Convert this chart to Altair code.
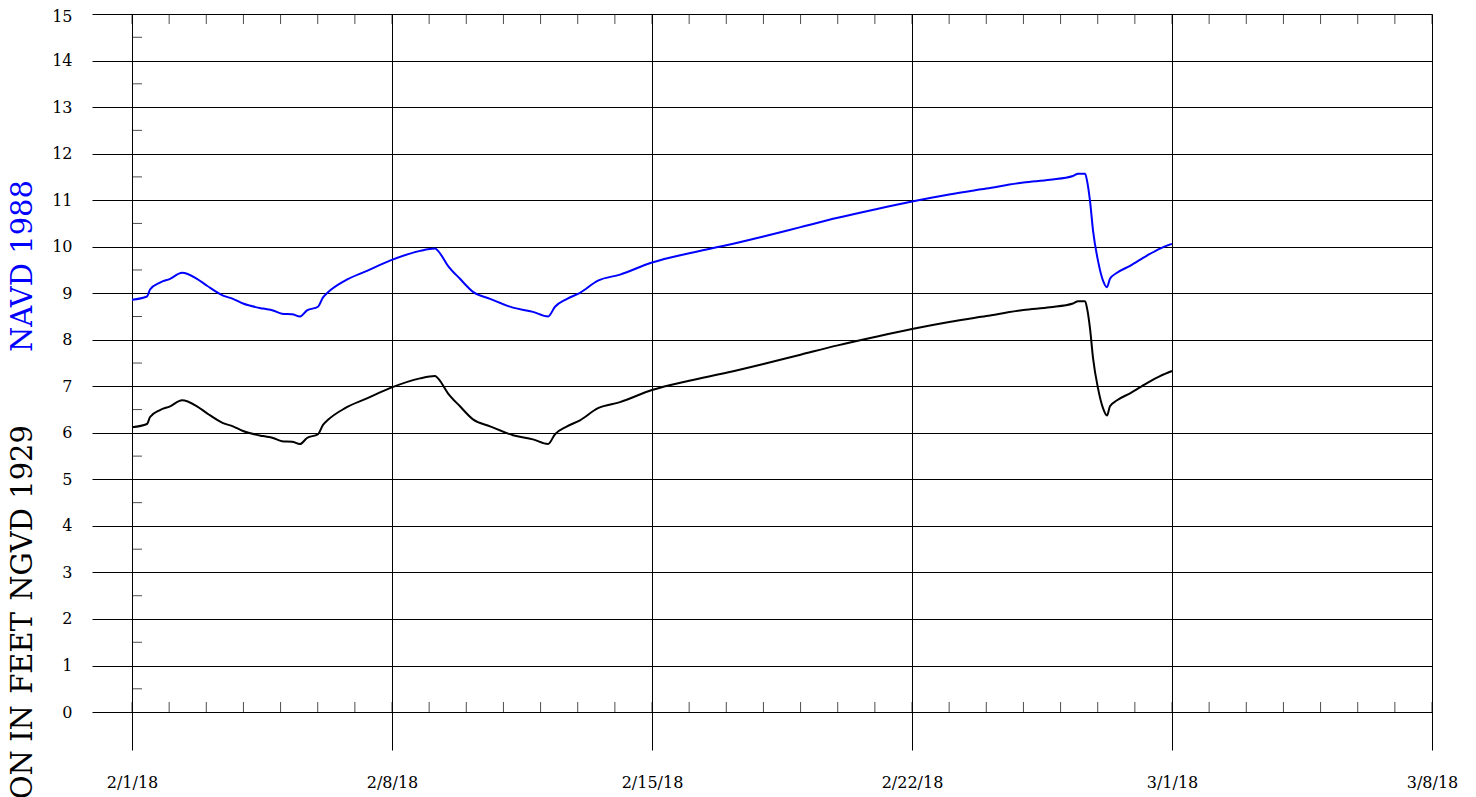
import altair as alt
import pandas as pd

# ---- data ----
times = [
    "2018-02-01T00:00:00Z", "2018-02-01T09:40:00Z", "2018-02-01T11:40:00Z", "2018-02-01T18:05:00Z",
    "2018-02-02T00:35:00Z", "2018-02-02T08:20:00Z", "2018-02-02T18:00:00Z", "2018-02-03T00:30:00Z",
    "2018-02-03T10:50:00Z", "2018-02-03T17:15:00Z", "2018-02-03T23:45:00Z", "2018-02-04T12:40:00Z",
    "2018-02-04T19:05:00Z", "2018-02-05T00:55:00Z", "2018-02-05T07:25:00Z", "2018-02-05T12:35:00Z",
    "2018-02-05T17:05:00Z", "2018-02-06T00:10:00Z", "2018-02-06T03:25:00Z", "2018-02-06T06:40:00Z",
    "2018-02-06T17:40:00Z", "2018-02-07T07:50:00Z", "2018-02-07T22:40:00Z", "2018-02-08T18:05:00Z",
    "2018-02-09T03:50:00Z", "2018-02-09T05:45:00Z", "2018-02-09T12:10:00Z", "2018-02-09T19:55:00Z",
    "2018-02-10T04:20:00Z", "2018-02-10T15:20:00Z", "2018-02-11T06:10:00Z", "2018-02-11T19:05:00Z",
    "2018-02-12T04:50:00Z", "2018-02-12T09:20:00Z", "2018-02-12T17:05:00Z", "2018-02-13T01:30:00Z",
    "2018-02-13T13:05:00Z", "2018-02-14T03:20:00Z", "2018-02-15T00:00:00Z", "2018-02-16T00:00:00Z",
    "2018-02-17T00:00:00Z", "2018-02-18T00:00:00Z", "2018-02-19T00:00:00Z", "2018-02-20T00:00:00Z",
    "2018-02-21T00:00:00Z", "2018-02-22T00:00:00Z", "2018-02-23T00:00:00Z", "2018-02-24T00:00:00Z",
    "2018-02-25T00:00:00Z", "2018-02-25T17:10:00Z", "2018-02-26T08:00:00Z", "2018-02-26T11:20:00Z",
    "2018-02-26T15:50:00Z", "2018-02-26T17:05:00Z", "2018-02-26T19:00:00Z", "2018-02-26T21:00:00Z",
    "2018-02-27T00:10:00Z", "2018-02-27T03:25:00Z", "2018-02-27T06:00:00Z", "2018-02-27T07:55:00Z",
    "2018-02-27T12:30:00Z", "2018-02-27T20:55:00Z", "2018-02-28T07:50:00Z", "2018-02-28T16:15:00Z",
    "2018-03-01T00:00:00Z",
]

navd_1988 = [
    8.86, 8.93, 9.08, 9.23, 9.31, 9.44, 9.31, 9.16, 8.95, 8.88, 8.78, 8.67, 8.63, 8.56, 8.55, 8.50,
    8.63, 8.71, 8.91, 9.02, 9.27, 9.48, 9.70, 9.91, 9.96, 9.91, 9.59, 9.31, 9.03, 8.88, 8.69, 8.60,
    8.50, 8.71, 8.88, 9.01, 9.27, 9.40, 9.66, 9.86, 10.03, 10.22, 10.42, 10.62, 10.80, 10.97, 11.12,
    11.25, 11.38, 11.44, 11.52, 11.57, 11.57, 11.42, 10.99, 10.34, 9.70, 9.27, 9.13, 9.31, 9.44, 9.59,
    9.81, 9.96, 10.06,
]

ngvd_1929 = [
    6.12, 6.19, 6.34, 6.49, 6.57, 6.70, 6.57, 6.42, 6.21, 6.14, 6.04, 5.93, 5.89, 5.82, 5.81, 5.76,
    5.89, 5.97, 6.17, 6.28, 6.53, 6.74, 6.96, 7.17, 7.22, 7.17, 6.85, 6.57, 6.29, 6.14, 5.95, 5.86,
    5.76, 5.97, 6.14, 6.27, 6.53, 6.66, 6.92, 7.12, 7.29, 7.48, 7.68, 7.88, 8.06, 8.23, 8.38, 8.51,
    8.64, 8.70, 8.78, 8.83, 8.83, 8.68, 8.25, 7.60, 6.96, 6.53, 6.37, 6.57, 6.70, 6.85, 7.07, 7.22,
    7.33,
]

y_tick_values = list(range(0, 16))
y_minor_values = [v + 0.5 for v in range(0, 15)]
week_labels = [(2, 1), (2, 8), (2, 15), (2, 22), (3, 1), (3, 8)]

# y-axis title, read bottom-to-top: "ELEVATION IN FEET NGVD 1929" (black) + "NAVD 1988" (blue)
title_words = ["ELEVATION", "IN", "FEET", "NGVD 1929", "NAVD 1988"]
title_colors = ["#000000", "#000000", "#000000", "#000000", "#0000ff"]
title_word_end_px = [736, 691, 598, 411, 166]

FONT = "DejaVu Serif"

# ---- tables ----
df = pd.DataFrame({"time": times, "NAVD 1988": navd_1988, "NGVD 1929": ngvd_1929})
long_df = df.melt("time", var_name="datum", value_name="elev")

days = pd.date_range("2018-02-01", "2018-03-08", freq="D")
days_df = pd.DataFrame({"day": [d.strftime("%Y-%m-%dT00:00:00Z") for d in days]})
minor_df = pd.DataFrame({"y": y_minor_values, "day": ["2018-02-01T00:00:00Z"] * len(y_minor_values)})
title_df = pd.DataFrame({"word": title_words, "color": title_colors, "ypx": title_word_end_px})

x_scale = alt.Scale(
    type="utc",
    domain=[
        alt.DateTime(year=2018, month=1, date=30, hours=22, minutes=9, utc=True),
        alt.DateTime(year=2018, month=3, date=8, utc=True),
    ],
)
y_scale = alt.Scale(domain=[-0.815, 15], nice=False, zero=False)

x_axis = alt.Axis(
    values=[alt.DateTime(year=2018, month=m, date=d, utc=True) for m, d in week_labels],
    format="%-m/%-d/%y",
    grid=True, gridColor="black", gridOpacity=1, gridWidth=1,
    domain=False, ticks=False, tickSize=0,
    labelFont=FONT, labelFontSize=16, labelColor="black", labelPadding=24,
    labelFlush=False, labelOverlap=False, title=None,
)
y_axis = alt.Axis(
    values=y_tick_values,
    grid=True, gridColor="black", gridOpacity=1, gridWidth=1,
    domain=False, ticks=False, tickSize=0,
    labelFont=FONT, labelFontSize=16, labelColor="black", labelPadding=20,
    labelOffset=alt.expr("datum.value == 15 ? 2 : 0"),
    labelFlush=False, title=None,
)

lines = alt.Chart(long_df).mark_line(strokeWidth=2, interpolate="monotone").encode(
    x=alt.X("time:T", scale=x_scale, axis=x_axis),
    y=alt.Y("elev:Q", scale=y_scale, axis=y_axis),
    color=alt.Color(
        "datum:N",
        scale=alt.Scale(domain=["NAVD 1988", "NGVD 1929"], range=["#0000ff", "#000000"]),
        legend=None,
    ),
)

top_ticks = alt.Chart(days_df).mark_tick(
    orient="vertical", size=10, thickness=1, color="black", yOffset=5
).encode(
    x=alt.X("day:T", scale=x_scale),
    y=alt.datum(15),
)

bottom_ticks = alt.Chart(days_df).mark_tick(
    orient="vertical", size=10, thickness=1, color="black", yOffset=-5
).encode(
    x=alt.X("day:T", scale=x_scale),
    y=alt.datum(0),
)

minor_ticks = alt.Chart(minor_df).mark_tick(
    orient="horizontal", size=10, thickness=1, color="black", xOffset=5
).encode(
    x=alt.X("day:T", scale=x_scale),
    y=alt.Y("y:Q", scale=y_scale),
)

title_text = alt.Chart(title_df).mark_text(
    angle=270, font=FONT, fontSize=29, align="right", baseline="alphabetic",
).encode(
    text="word:N",
    color=alt.Color("color:N", scale=None, legend=None),
    x=alt.value(-60),
    y=alt.Y("ypx:Q", scale=None, axis=None),
)

chart = alt.layer(lines, top_ticks, bottom_ticks, minor_ticks, title_text).resolve_scale(
    color="independent", y="shared"
).properties(
    width=1340,
    height=736,
    autosize=alt.AutoSizeParams(type="none"),
    padding={"left": 84, "top": 6, "right": 36, "bottom": 47},
    background="white",
).configure_view(stroke=None)

chart.save("out.html", embed_options={"renderer": "svg", "actions": False})
